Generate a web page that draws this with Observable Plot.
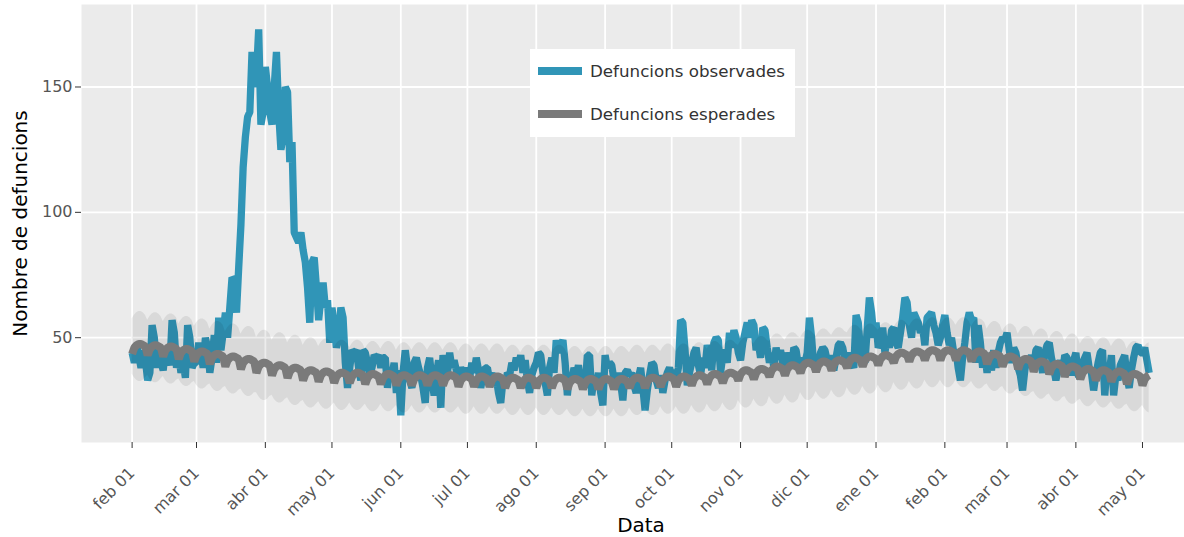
<!DOCTYPE html>
<html><head><meta charset="utf-8">
<script src="https://cdn.jsdelivr.net/npm/d3@7"></script>
<script src="https://cdn.jsdelivr.net/npm/@observablehq/plot@0.6"></script>
<style>
body{margin:0;background:#fff;font-family:"DejaVu Sans",sans-serif;}
#wrap{position:relative;width:1184px;height:537px;overflow:hidden;}
#wrap svg g[aria-label="x-axis tick label"] text,
#wrap svg g[aria-label="y-axis tick label"] text{font-size:16px !important;}
.legend{position:absolute;left:530px;top:49px;width:265px;height:88px;background:#fff;}
.item{position:absolute;left:8px;display:flex;align-items:center;font-size:16.7px;color:#333;white-space:nowrap;}
.sw{width:44px;height:8px;margin-right:8px;}
</style></head><body><div id="wrap"></div>
<script>
const startDate = "2020-02-01";
const seriesNames = ["Defuncions observades", "Defuncions esperades"];
const seriesColors = ["#3095B7", "#7A7A7A"];
const xTitle = "Data";
const yTitle = "Nombre de defuncions";
const yTicks = [50, 100, 150];
const monthTicks = ["2020-02-01","2020-03-01","2020-04-01","2020-05-01","2020-06-01","2020-07-01","2020-08-01","2020-09-01","2020-10-01","2020-11-01","2020-12-01","2021-01-01","2021-02-01","2021-03-01","2021-04-01","2021-05-01"];
const monthNames = ["ene","feb","mar","abr","may","jun","jul","ago","sep","oct","nov","dic"];

// daily observed deaths, 2020-02-01 .. 2021-05-04
const observed = [
44,40,47,43,38,45,41,33,36,55,50,38,44,40,37,46,42,39,57,52,38,43,36,40,34,55,50,38,40,
40,48,44,38,50,46,36,42,51,40,58,45,52,60,50,62,74,73,60,78,95,118,130,138,140,164,150,155,173,135,140,
158,150,140,135,150,164,140,125,130,150,148,120,128,92,90,88,92,85,80,70,56,80,82,70,57,66,72,62,65,48,
62,55,46,50,62,58,40,30,38,45,44,45,38,33,45,44,40,35,38,43,42,43,38,42,42,30,38,35,40,28,37,
19,36,45,38,33,30,40,42,38,35,30,24,38,42,33,27,35,41,22,43,38,36,44,38,41,37,35,38,36,35,
38,34,40,36,42,37,30,35,38,38,33,36,31,34,28,24,33,30,36,35,40,37,42,39,43,36,41,33,28,35,38,
40,44,43,36,32,27,38,42,36,49,44,47,49,40,27,36,33,38,35,39,32,35,30,43,43,27,34,31,36,28,23,
43,38,40,39,33,30,36,32,25,36,37,35,36,31,28,34,38,30,21,29,35,40,39,33,30,35,28,33,36,38,
35,37,33,38,57,56,45,31,36,40,44,46,39,35,42,38,47,44,37,48,50,49,36,43,45,40,52,46,53,50,44,
41,48,52,56,50,57,55,45,48,42,54,53,46,40,44,38,46,42,45,40,37,44,41,38,46,45,39,36,42,40,
44,58,50,38,42,40,44,46,45,41,39,43,37,42,47,48,46,41,44,39,40,38,59,56,45,41,40,53,66,60,50,
56,46,48,54,44,50,46,53,54,48,46,52,58,66,64,55,50,60,58,56,52,54,47,58,59,60,55,52,47,50,55,
59,52,47,50,44,45,38,33,42,48,56,60,57,58,40,55,48,38,44,36,42,37,45,38,44,48,50,49,
52,45,40,46,44,38,35,29,37,42,40,43,38,45,46,41,36,44,47,48,42,38,33,37,41,36,43,42,39,35,41,
44,35,34,40,42,44,38,36,29,35,40,44,45,27,38,36,43,27,35,33,39,41,43,34,30,37,42,46,47,44,
44,46,41,36
];

// daily expected deaths
const expected = [
43.5,46,47,47.5,47.5,47,46.5, 43,45.5,46.5,47,47,46.5,46, 42.5,45,46,46.5,46.5,46,45.5, 41.5,44,45,45.5,45.5,45,44.5,
40.5,43,44,44.5,44.5,44,43.5, 39.5,42,43,43.5,43.5,43,42.5, 38.5,41,42,42.5,42.5,42,41.5, 37.5,40,41,41.5,41.5,41,40.5,
36,38.5,39.5,40,40,39.5,39, 35,37.5,38.5,39,39,38.5,38, 34,36.5,37.5,38,38,37.5,37, 33,35.5,36.5,37,37,36.5,36,
32.5,35,36,36.5,36.5,36,35.5, 32,34.5,35.5,36,36,35.5,35, 32,34.5,35.5,36,36,35.5,35, 31.5,34,35,35.5,35.5,35,34.5,
31.5,34,35,35.5,35.5,35,34.5, 31,33.5,34.5,35,35,34.5,34, 31,33.5,34.5,35,35,34.5,34, 31,33.5,34.5,35,35,34.5,34,
31,33.5,34.5,35,35,34.5,34, 30.5,33,34,34.5,34.5,34,33.5, 30.5,33,34,34.5,34.5,34,33.5, 30.5,33,34,34.5,34.5,34,33.5,
30,32.5,33.5,34,34,33.5,33, 30,32.5,33.5,34,34,33.5,33, 30,32.5,33.5,34,34,33.5,33, 30,32.5,33.5,34,34,33.5,33,
29.5,32,33,33.5,33.5,33,32.5, 29.5,32,33,33.5,33.5,33,32.5, 29.5,32,33,33.5,33.5,33,32.5, 29.5,32,33,33.5,33.5,33,32.5,
30,32.5,33.5,34,34,33.5,33, 30,32.5,33.5,34,34,33.5,33, 30.5,33,34,34.5,34.5,34,33.5, 30.5,33,34,34.5,34.5,34,33.5,
31,33.5,34.5,35,35,34.5,34, 31.5,34,35,35.5,35.5,35,34.5, 32,34.5,35.5,36,36,35.5,35, 33,35.5,36.5,37,37,36.5,36,
33.5,36,37,37.5,37.5,37,36.5, 34.5,37,38,38.5,38.5,38,37.5, 35,37.5,38.5,39,39,38.5,38, 36,38.5,39.5,40,40,39.5,39,
36.5,39,40,40.5,40.5,40,39.5, 37,39.5,40.5,41,41,40.5,40, 38,40.5,41.5,42,42,41.5,41, 38.5,41,42,42.5,42.5,42,41.5,
39,41.5,42.5,43,43,42.5,42, 40,42.5,43.5,44,44,43.5,43, 40.5,43,44,44.5,44.5,44,43.5, 41,43.5,44.5,45,45,44.5,44,
41,43.5,44.5,45,45,44.5,44, 41,43.5,44.5,45,45,44.5,44, 40.5,43,44,44.5,44.5,44,43.5, 39.5,42,43,43.5,43.5,43,42.5,
38.5,41,42,42.5,42.5,42,41.5, 37.5,40,41,41.5,41.5,41,40.5, 36.5,39,40,40.5,40.5,40,39.5, 35.5,38,39,39.5,39.5,39,38.5,
34.5,37,38,38.5,38.5,38,37.5, 33.5,36,37,37.5,37.5,37,36.5, 33,35.5,36.5,37,37,36.5,36, 32.5,35,36,36.5,36.5,36,35.5,
31.5,34,35,35.5,35.5,35,34.5, 31,33.5,34.5,35
];

// lower and upper limits of the expected band
const lower = [
35.5,34,33,32.5,32.5,33,34, 35,33.5,32.5,32,32,32.5,33.5, 34.5,33,32,31.5,31.5,32,33, 33.5,32,31,30.5,30.5,31,32,
32.5,31,30,29.5,29.5,30,31, 31.5,30,29,28.5,28.5,29,30, 30.5,29,28,27.5,27.5,28,29, 29.5,28,27,26.5,26.5,27,28,
28,26.5,25.5,25,25,25.5,26.5, 27,25.5,24.5,24,24,24.5,25.5, 26,24.5,23.5,23,23,23.5,24.5, 25,23.5,22.5,22,22,22.5,23.5,
24.5,23,22,21.5,21.5,22,23, 24,22.5,21.5,21,21,21.5,22.5, 24,22.5,21.5,21,21,21.5,22.5, 23.5,22,21,20.5,20.5,21,22,
23.5,22,21,20.5,20.5,21,22, 23,21.5,20.5,20,20,20.5,21.5, 23,21.5,20.5,20,20,20.5,21.5, 23,21.5,20.5,20,20,20.5,21.5,
23,21.5,20.5,20,20,20.5,21.5, 22.5,21,20,19.5,19.5,20,21, 22.5,21,20,19.5,19.5,20,21, 22.5,21,20,19.5,19.5,20,21,
22,20.5,19.5,19,19,19.5,20.5, 22,20.5,19.5,19,19,19.5,20.5, 22,20.5,19.5,19,19,19.5,20.5, 22,20.5,19.5,19,19,19.5,20.5,
21.5,20,19,18.5,18.5,19,20, 21.5,20,19,18.5,18.5,19,20, 21.5,20,19,18.5,18.5,19,20, 21.5,20,19,18.5,18.5,19,20,
22,20.5,19.5,19,19,19.5,20.5, 22,20.5,19.5,19,19,19.5,20.5, 22.5,21,20,19.5,19.5,20,21, 22.5,21,20,19.5,19.5,20,21,
23,21.5,20.5,20,20,20.5,21.5, 23.5,22,21,20.5,20.5,21,22, 24,22.5,21.5,21,21,21.5,22.5, 25,23.5,22.5,22,22,22.5,23.5,
25.5,24,23,22.5,22.5,23,24, 26.5,25,24,23.5,23.5,24,25, 27,25.5,24.5,24,24,24.5,25.5, 28,26.5,25.5,25,25,25.5,26.5,
28.5,27,26,25.5,25.5,26,27, 29,27.5,26.5,26,26,26.5,27.5, 30,28.5,27.5,27,27,27.5,28.5, 30.5,29,28,27.5,27.5,28,29,
31,29.5,28.5,28,28,28.5,29.5, 32,30.5,29.5,29,29,29.5,30.5, 32.5,31,30,29.5,29.5,30,31, 33,31.5,30.5,30,30,30.5,31.5,
33,31.5,30.5,30,30,30.5,31.5, 33,31.5,30.5,30,30,30.5,31.5, 32.5,31,30,29.5,29.5,30,31, 31.5,30,29,28.5,28.5,29,30,
30.5,29,28,27.5,27.5,28,29, 29.5,28,27,26.5,26.5,27,28, 28.5,27,26,25.5,25.5,26,27, 27.5,26,25,24.5,24.5,25,26,
26.5,25,24,23.5,23.5,24,25, 25.5,24,23,22.5,22.5,23,24, 25,23.5,22.5,22,22,22.5,23.5, 24.5,23,22,21.5,21.5,22,23,
23.5,22,21,20.5,20.5,21,22, 23,21.5,20.5,20
];
const upper = [
57.5,59,60,60.5,60.5,60,59, 57,58.5,59.5,60,60,59.5,58.5, 56.5,58,59,59.5,59.5,59,58, 55.5,57,58,58.5,58.5,58,57,
54.5,56,57,57.5,57.5,57,56, 53.5,55,56,56.5,56.5,56,55, 52.5,54,55,55.5,55.5,55,54, 51.5,53,54,54.5,54.5,54,53,
50,51.5,52.5,53,53,52.5,51.5, 49,50.5,51.5,52,52,51.5,50.5, 48,49.5,50.5,51,51,50.5,49.5, 47,48.5,49.5,50,50,49.5,48.5,
46.5,48,49,49.5,49.5,49,48, 46,47.5,48.5,49,49,48.5,47.5, 46,47.5,48.5,49,49,48.5,47.5, 45.5,47,48,48.5,48.5,48,47,
45.5,47,48,48.5,48.5,48,47, 45,46.5,47.5,48,48,47.5,46.5, 45,46.5,47.5,48,48,47.5,46.5, 45,46.5,47.5,48,48,47.5,46.5,
45,46.5,47.5,48,48,47.5,46.5, 44.5,46,47,47.5,47.5,47,46, 44.5,46,47,47.5,47.5,47,46, 44.5,46,47,47.5,47.5,47,46,
44,45.5,46.5,47,47,46.5,45.5, 44,45.5,46.5,47,47,46.5,45.5, 44,45.5,46.5,47,47,46.5,45.5, 44,45.5,46.5,47,47,46.5,45.5,
43.5,45,46,46.5,46.5,46,45, 43.5,45,46,46.5,46.5,46,45, 43.5,45,46,46.5,46.5,46,45, 43.5,45,46,46.5,46.5,46,45,
44,45.5,46.5,47,47,46.5,45.5, 44,45.5,46.5,47,47,46.5,45.5, 44.5,46,47,47.5,47.5,47,46, 44.5,46,47,47.5,47.5,47,46,
45,46.5,47.5,48,48,47.5,46.5, 45.5,47,48,48.5,48.5,48,47, 46,47.5,48.5,49,49,48.5,47.5, 47,48.5,49.5,50,50,49.5,48.5,
47.5,49,50,50.5,50.5,50,49, 48.5,50,51,51.5,51.5,51,50, 49,50.5,51.5,52,52,51.5,50.5, 50,51.5,52.5,53,53,52.5,51.5,
50.5,52,53,53.5,53.5,53,52, 51,52.5,53.5,54,54,53.5,52.5, 52,53.5,54.5,55,55,54.5,53.5, 52.5,54,55,55.5,55.5,55,54,
53,54.5,55.5,56,56,55.5,54.5, 54,55.5,56.5,57,57,56.5,55.5, 54.5,56,57,57.5,57.5,57,56, 55,56.5,57.5,58,58,57.5,56.5,
55,56.5,57.5,58,58,57.5,56.5, 55,56.5,57.5,58,58,57.5,56.5, 54.5,56,57,57.5,57.5,57,56, 53.5,55,56,56.5,56.5,56,55,
52.5,54,55,55.5,55.5,55,54, 51.5,53,54,54.5,54.5,54,53, 50.5,52,53,53.5,53.5,53,52, 49.5,51,52,52.5,52.5,52,51,
48.5,50,51,51.5,51.5,51,50, 47.5,49,50,50.5,50.5,50,49, 47,48.5,49.5,50,50,49.5,48.5, 46.5,48,49,49.5,49.5,49,48,
45.5,47,48,48.5,48.5,48,47, 45,46.5,47.5,48
];

const start = new Date(startDate + "T00:00:00Z");
const days = d3.utcDay.range(start, d3.utcDay.offset(start, observed.length));
const rows = days.map((date, i) => ({date, obs: observed[i], exp: expected[i], lo: lower[i], hi: upper[i]}));
const tickDates = monthTicks.map(s => new Date(s + "T00:00:00Z"));

const chart = Plot.plot({
  width: 1184, height: 537,
  marginLeft: 81, marginRight: 0, marginTop: 4, marginBottom: 95,
  style: {fontFamily: '"DejaVu Sans", sans-serif', fontSize: "16px", color: "#555", background: "transparent", overflow: "visible"},
  x: {type: "utc", domain: [new Date(Date.UTC(2020, 0, 9, 5)), new Date(Date.UTC(2021, 4, 19, 22))]},
  y: {domain: [8.2, 182.9]},
  marks: [
    Plot.frame({fill: "#EBEBEB", stroke: null}),
    Plot.gridX({ticks: tickDates, stroke: "#fff", strokeOpacity: 1, strokeWidth: 1.8}),
    Plot.gridY({ticks: yTicks, stroke: "#fff", strokeOpacity: 1, strokeWidth: 1.8}),
    Plot.lineY(rows, {x: "date", y: "obs", stroke: seriesColors[0], strokeWidth: 7.3, strokeLinejoin: "miter", strokeLinecap: "butt"}),
    Plot.areaY(rows, {x: "date", y1: "lo", y2: "hi", fill: "#000", fillOpacity: 0.075}),
    Plot.lineY(rows, {x: "date", y: "exp", stroke: seriesColors[1], strokeWidth: 8, strokeLinejoin: "miter", strokeLinecap: "butt"}),
    Plot.axisX({ticks: tickDates, tickFormat: d => monthNames[d.getUTCMonth()] + " 01", tickRotate: -45, tickSize: 6, tickPadding: 22, label: null, stroke: "#333", fill: "#555"}),
    Plot.axisY({ticks: yTicks, tickSize: 6, tickPadding: 3, label: null, stroke: "#333", fill: "#555"}),
    Plot.text([xTitle], {text: d => d, frameAnchor: "bottom", dx: 8, dy: 89, fontSize: 20, fill: "#000"}),
    Plot.text([yTitle], {text: d => d, frameAnchor: "left", textAnchor: "middle", rotate: -90, dx: -61, fontSize: 20, fill: "#000"})
  ]
});

const wrap = document.getElementById("wrap");
wrap.appendChild(chart);
const legend = document.createElement("div");
legend.className = "legend";
seriesNames.forEach((name, i) => {
  const item = document.createElement("div");
  item.className = "item";
  item.style.top = (i === 0 ? 12 : 55) + "px";
  const sw = document.createElement("span");
  sw.className = "sw";
  sw.style.background = seriesColors[i];
  const tx = document.createElement("span");
  tx.textContent = name;
  item.appendChild(sw); item.appendChild(tx);
  legend.appendChild(item);
});
wrap.appendChild(legend);
</script></body></html>
